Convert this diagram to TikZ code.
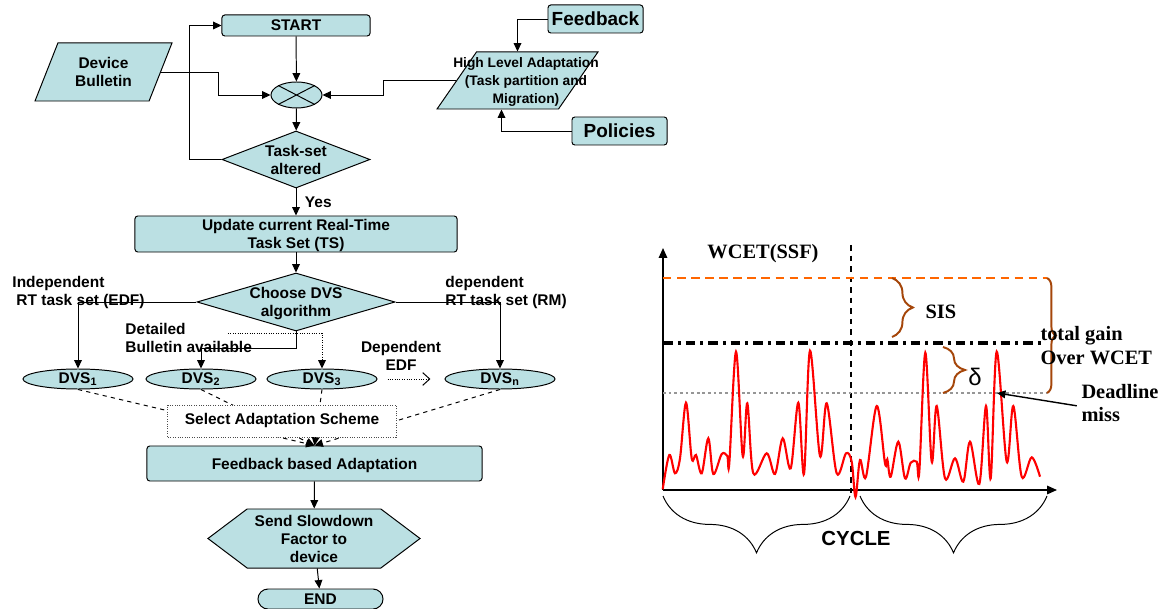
\documentclass[tikz,border=0pt]{standalone}
\usepackage{fontspec}
\setmainfont{Liberation Sans}
\newfontfamily\seriffont{Liberation Serif}
\usetikzlibrary{arrows.meta,shapes.geometric,shapes.symbols,shapes.misc,decorations.pathreplacing}
\definecolor{boxfill}{RGB}{187,224,227}
\definecolor{gainorange}{RGB}{255,102,0}
\definecolor{bracebrown}{RGB}{165,70,10}
\definecolor{dotgrey}{RGB}{150,150,150}
\begin{document}
\begin{tikzpicture}[x=0.025cm,y=-0.025cm,line width=0.7pt,
  >={Triangle[length=6pt,width=5.5pt]},
  flow/.style={draw=black,fill=boxfill,font=\bfseries\fontsize{11}{12.8}\selectfont,align=center,inner sep=0pt,text depth=0pt},
  procbox/.style={flow,rounded corners=2pt},
  decision/.style={flow,diamond},
  iobox/.style={flow,trapezium,trapezium left angle=64,trapezium right angle=116,trapezium stretches=true},
  dvsnode/.style={flow,ellipse,minimum width=2.75cm,minimum height=0.5cm,text height=7pt,text depth=1pt},
  lbl/.style={font=\bfseries\fontsize{11}{12.8}\selectfont,align=left,inner sep=0pt},
  chart/.style={font=\seriffont\bfseries\fontsize{14.5}{17}\selectfont,align=left,inner sep=0pt},
  gainbrace/.style={decorate,draw=bracebrown,line width=1.4pt}]
  \useasboundingbox (0,0) rectangle (1163,609);
  \node[procbox,minimum width=3.7cm,minimum height=0.525cm] (start) at (296,25.5) {START};
  \node[flow,ellipse,minimum width=1.275cm,minimum height=0.65cm] (sum) at (296.5,95) {};
  \draw (sum.north west) -- (sum.south east) (sum.north east) -- (sum.south west);
  \node[iobox,minimum width=3.425cm,minimum height=1.45cm] (bulletin) at (103.5,72) {Device\\Bulletin};
  \node[iobox,trapezium left angle=65,trapezium right angle=115,minimum width=4.025cm,minimum height=1.425cm] (hla) at (517.5,80.5) {\phantom{X}};
  \node[lbl,align=center,font=\bfseries\fontsize{9.8}{12.5}\selectfont] (hlatext) at (526,82) {High Level Adaptation\\(Task partition and\\Migration)};
  \node[procbox,minimum width=2.375cm,minimum height=0.7cm,font=\bfseries\fontsize{13.5}{15}\selectfont] (feedback) at (595.5,19) {Feedback};
  \node[procbox,minimum width=2.375cm,minimum height=0.7cm,font=\bfseries\fontsize{13.5}{15}\selectfont] (policies) at (619.5,131) {Policies};
  \node[decision,aspect=2.6,minimum width=3.7cm,minimum height=1.425cm] (altered) at (296,159.5) {Task-set\\altered};
  \node[procbox,minimum width=8.05cm,minimum height=0.9cm] (update) at (296,234) {Update current Real-Time\\Task Set (TS)};
  \node[decision,aspect=3.4,minimum width=4.95cm,minimum height=1.45cm] (choose) at (296,302) {Choose DVS\\algorithm};
  \node[dvsnode] (dvs1) at (78,379) {DVS\textsubscript{1}};
  \node[dvsnode] (dvs2) at (201,379) {DVS\textsubscript{2}};
  \node[dvsnode] (dvs3) at (322,379) {DVS\textsubscript{3}};
  \node[dvsnode] (dvsn) at (500,379) {DVS\textsubscript{n}};
  \node[procbox,minimum width=8.375cm,minimum height=0.875cm] (adapt) at (314.5,463.5) {Feedback based Adaptation};
  \node[flow,signal,signal to=west and east,signal pointer angle=74,minimum width=5.3cm,minimum height=1.475cm] (slowdown) at (314,538.5) {Send Slowdown\\Factor to\\device};
  \node[flow,rounded rectangle,minimum width=3.125cm,minimum height=0.5cm] (finish) at (320.5,599) {END};
  \node[lbl,anchor=west] (indep) at (12,292.5) {Independent\\\hspace*{0.1cm}RT task set (EDF)};
  \node[lbl,anchor=west] (dep) at (445,292.5) {dependent\\RT task set (RM)};
  \node[lbl,anchor=west] (detailed) at (125,338) {Detailed\\Bulletin available};
  \node[lbl,align=center] (depedf) at (401,356) {Dependent\\EDF};
  \draw[->] (start) -- (sum);
  \draw[->] (bulletin.east) -- ++(57,0) |- (sum.west);
  \draw[->] (hla.west) -- ++(-73,0) |- (sum.east);
  \draw[->] (feedback.west) -| (hla.north);
  \draw[->] (policies.west) -| ([xshift=-0.4cm]hla.south);
  \draw[->] (sum) -- (altered);
  \draw[->] (altered.west) -- ++(-32,0) |- (start.west);
  \draw[->] (altered) -- node[lbl,right=6pt] (yes) {Yes} (update);
  \draw[->] (update) -- (choose);
  \draw[->] (choose.west) -| (dvs1.north);
  \draw[->] (choose.east) -| (dvsn.north);
  \draw[->] (choose.south) -- ++(0,17) -| (dvs2.north);
  \draw[densely dotted,->] ([xshift=-1.7cm,yshift=-0.05cm]choose.south) -| (dvs3.north);
  \draw[densely dotted,-{Straight Barb[length=5pt,width=9pt]}] ([xshift=0.25cm]dvs3.east) -- ([xshift=-0.35cm]dvsn.west);
  \foreach \d in {dvs1,dvs2,dvs3,dvsn}
    \draw[dashed,->] (\d.south) -- (adapt.north);
  \node[lbl,draw=black!70,densely dotted,fill=white,minimum width=5.7cm,minimum height=0.8cm] (select) at (282,421) {Select Adaptation Scheme};
  \draw[->] (adapt) -- (slowdown);
  \draw[->] (slowdown) -- (finish);
  \coordinate (origin) at (663,490);
  \draw[->,line width=1pt,>={Triangle[length=7pt,width=6pt]}] (origin) -- (663,248);
  \draw[->,line width=1pt,>={Triangle[length=7pt,width=6pt]}] (origin) -- (1057,490);
  \draw[line width=1pt,dash pattern=on 4pt off 3.5pt] (851,245) -- (851,495);
  \draw[gainorange,line width=1.8pt,dash pattern=on 6pt off 4pt] (663,278) -- (1047,278);
  \draw[line width=2.2pt,dash pattern=on 7pt off 3.5pt on 2pt off 3.5pt] (663,343) -- (1045,343);
  \draw[dotgrey,line width=1.6pt,dash pattern=on 2pt off 2pt] (663,393) -- (1047,393);
  \draw[red,line width=1.5pt] plot[smooth,tension=0.55] coordinates {
    (662.7,489.3) (669.3,455) (675,473.3) (680,458.3) (686,402.7) (691.7,458.3)
    (696,455) (701.7,473.3) (708.3,438.3) (713.3,474) (721.7,454) (727.3,456)
    (729.3,463.3) (736,351.7) (742.7,456) (747.3,403.3) (753.3,473.3) (766.7,453.3)
    (775,474) (782.7,438.3) (790.7,468.3) (798.3,402.7) (804,474) (810,350.7)
    (820,456) (826.7,403.3) (836.7,473.3) (846,453.3) (851.7,461.7) (855.5,497)
    (860,460) (866,476.7) (876.7,406) (885,463.3) (887.3,459.3) (890.7,476.7)
    (898.3,441.7) (905,478.3) (910.7,462.7) (916.7,461.7) (919.3,471.7) (925.3,352.7)
    (931.7,461.7) (936.7,406) (945,478.3) (955,458.3) (963.3,481.7) (970,441.7)
    (979.3,484) (986,406) (990.7,478.3) (996.7,351.7) (1006.7,461.7) (1013.3,406)
    (1021.7,476.7) (1031.7,457.3) (1040,476.7)};
  \draw[gainbrace,decoration={brace,amplitude=0.52cm}] (892,278) -- (892,337);
  \draw[gainbrace,decoration={brace,amplitude=0.55cm}] (943,347) -- (943,393);
  \draw[gainbrace,decoration={brace,amplitude=0.22cm}] (1047,278) -- (1047,393);
  \draw[decorate,decoration={brace,amplitude=1.42cm}] (850,496) -- (663,496);
  \draw[decorate,decoration={brace,amplitude=1.42cm}] (1047,496) -- (860,496);
  \node[chart] (wcet) at (763,254) {WCET(SSF)};
  \node[chart,anchor=west] (sis) at (925,312) {SIS};
  \node[inner sep=0pt,font=\fontsize{17}{17}\selectfont] (delta) at (975,377) {δ};
  \node[chart,anchor=west] (gain) at (1040,346) {total gain\\Over WCET};
  \node[chart,anchor=west] (miss) at (1081,403) {Deadline\\miss};
  \coordinate (peak) at (997,393);
  \draw[->,line width=1pt] ([xshift=-3pt,yshift=-2pt]miss.west) -- (peak);
  \node[font=\bfseries\fontsize{14.5}{17}\selectfont] (cycle) at (856,538) {CYCLE};
\end{tikzpicture}
\end{document}
